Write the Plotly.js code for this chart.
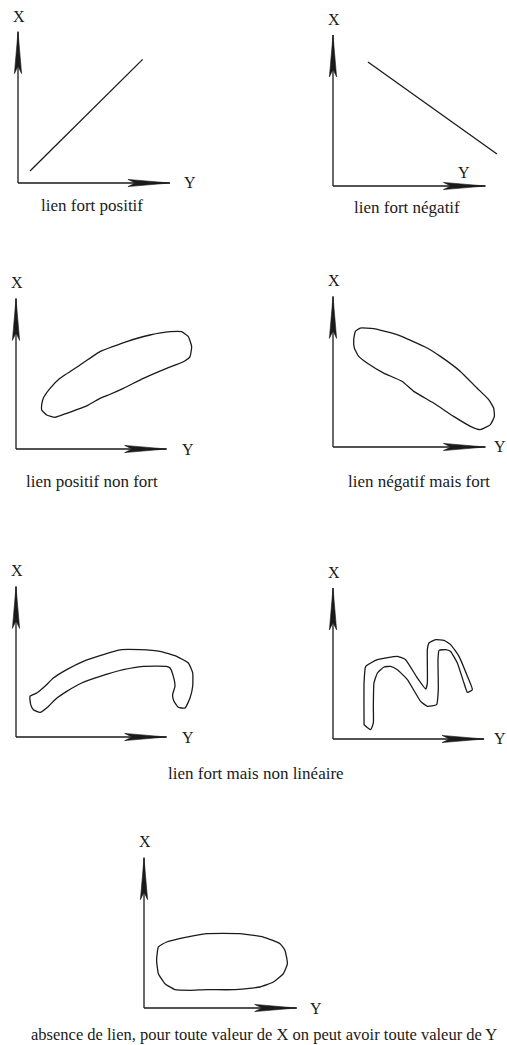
<!DOCTYPE html>
<html>
<head>
<meta charset="utf-8">
<script src="https://cdn.plot.ly/plotly-3.0.1.min.js"></script>
<style>
  html, body { margin: 0; padding: 0; background: #fff; }
  #chart { width: 507px; height: 1045px; }
</style>
</head>
<body>
<div id="chart"></div>
<script>
// ---- data (axis units, origin of each little diagram = 0,0) ----

// arrow lengths of the two axes, one per diagram
const axisTipH = [10.13, 10.16, 10.04, 10.16, 10.04, 10.07, 10.18];
const axisTipV = [10.09, 10.07, 10.04, 10.04, 10.04, 10.07, 10.02];

// 1. lien fort positif
const posLineX = [0.8, 8.31];
const posLineY = [0.8, 8.24];

// 2. lien fort négatif
const negLineX = [2.33, 10.93];
const negLineY = [8.27, 2.13];

// 3. lien positif non fort
const posCloudX = [1.71, 1.82, 2.27, 2.93, 4.27, 5.6, 7.38, 8.93, 10.27, 11.04, 11.49, 11.71,
                   11.6, 11.16, 10.04, 8.49, 7.16, 6.16, 5.6, 4.82, 3.38, 2.6, 2.04, 1.71];
const posCloudY = [2.93, 3.38, 4.04, 4.71, 5.6, 6.49, 7.16, 7.6, 7.82, 7.82, 7.49, 6.82,
                   6.16, 5.82, 5.38, 4.71, 4.04, 3.6, 3.38, 2.93, 2.38, 2.11, 2.27, 2.6];

// 4. lien négatif mais fort
const negCloudX = [1.38, 1.49, 1.82, 2.71, 4.27, 6.27, 7.16, 8.49, 9.6, 10.38, 10.71, 10.76,
                   10.49, 9.82, 9.16, 8.04, 6.71, 5.38, 4.6, 3.38, 2.27, 1.71, 1.42];
const negCloudY = [7.16, 7.71, 7.93, 7.89, 7.49, 6.6, 6.04, 5.04, 3.93, 3.16, 2.6, 2.04,
                   1.49, 1.16, 1.38, 2.04, 2.93, 3.71, 4.38, 4.93, 5.6, 6.04, 6.6];

// 5. lien fort mais non linéaire (arc)
const arcX = [0.93, 1.38, 1.93, 2.49, 3.38, 4.49, 5.6, 7.04, 8.27, 9.6, 10.71, 11.49, 11.78,
              11.78, 11.6, 11.27, 10.82, 10.53, 10.44, 10.6, 10.49, 10.27, 10.04, 8.49, 7.16,
              5.6, 4.38, 3.38, 2.6, 2.16, 1.6, 1.16, 0.98];
const arcY = [2.71, 2.93, 3.38, 3.93, 4.49, 5.04, 5.42, 5.82, 5.82, 5.71, 5.38, 4.93, 4.27,
              3.38, 2.6, 1.93, 1.98, 2.38, 2.82, 3.38, 4.04, 4.6, 4.71, 4.71, 4.49,
              4.04, 3.6, 3.04, 2.49, 2.04, 1.64, 1.82, 2.16];

// 6. lien fort mais non linéaire (vague)
const waveX = [2.07, 2.07, 2.18, 2.96, 4.29, 4.84, 5.62, 6.18, 6.29, 6.29, 6.4, 6.84, 7.4,
               7.84, 8.4, 8.96, 9.29, 8.96, 8.73, 8.29, 7.84, 7.51, 7.07, 7.0, 7.02, 6.91,
               6.29, 5.84, 4.96, 4.29, 3.84, 3.4, 2.96, 2.73, 2.69, 2.69, 2.51, 2.07];
const waveY = [1.07, 3.73, 4.84, 5.29, 5.51, 5.29, 4.07, 3.33, 3.73, 5.96, 6.4, 6.62, 6.58,
               6.29, 5.51, 4.18, 3.29, 3.11, 3.73, 5.07, 5.84, 5.96, 5.91, 5.29, 3.29, 2.29,
               2.18, 2.51, 3.96, 4.62, 4.84, 4.8, 4.4, 3.73, 2.18, 1.07, 0.62, 0.96];

// 7. absence de lien
const noLinkX = [0.84, 0.96, 1.51, 2.84, 4.18, 6.4, 7.96, 9.07, 9.4, 9.56, 9.29, 8.62, 7.73,
                 5.96, 4.18, 3.07, 2.07, 1.4, 0.96];
const noLinkY = [3.18, 4.07, 4.4, 4.73, 4.96, 4.96, 4.73, 4.29, 3.84, 2.96, 2.29, 1.73, 1.4,
                 1.22, 1.22, 1.18, 1.22, 1.62, 2.29];

const captions = [
    "lien fort positif",
    "lien fort négatif",
    "lien positif non fort",
    "lien négatif mais fort",
    "lien fort mais non linéaire",
    "absence de lien, pour toute valeur de X on peut avoir toute valeur de Y"
];

// ---- layout of the page (pixels) ----
const W = 507, H = 1045, UNIT = 15;
const INK = "#1a1a1a";
const FONT = "Liberation Serif";

const panels = [
    { ox: 18,  oy: 183,  xmax: 12.5, yLab: [11.45, 0] },
    { ox: 333, oy: 186,  xmax: 11.6, yLab: [8.76, 0.89] },
    { ox: 16,  oy: 449,  xmax: 12.5, yLab: [11.49, 0] },
    { ox: 333, oy: 447,  xmax: 11.6, yLab: [11.1, 0] },
    { ox: 16,  oy: 737,  xmax: 12.5, yLab: [11.49, 0] },
    { ox: 333, oy: 739,  xmax: 11.6, yLab: [11.1, 0] },
    { ox: 144, oy: 1008, xmax: 12.5, yLab: [11.47, 0] }
];
const captionPos = [[92, 205], [407, 208], [92, 482], [419, 482], [256, 773], [264, 1034]];
const captionSize = [17, 17, 17, 17, 17, 16.5];

const XMIN = -1, YMIN = -1, YMAX = 12;
const HEAD_LEN = 2.8, HEAD_W = 0.24;

function closed(arr) { return arr.concat([arr[0]]); }

function outline(xs, ys, i, closeIt) {
    const n = i === 0 ? "" : String(i + 1);
    return {
        x: closeIt ? closed(xs) : xs,
        y: closeIt ? closed(ys) : ys,
        xaxis: "x" + n,
        yaxis: "y" + n,
        type: "scatter",
        mode: "lines",
        line: { color: INK, width: 1.3, shape: closeIt ? "spline" : "linear", smoothing: 0.4 },
        hoverinfo: "skip",
        showlegend: false
    };
}

const traces = [
    outline(posLineX, posLineY, 0, false),
    outline(negLineX, negLineY, 1, false),
    outline(posCloudX, posCloudY, 2, true),
    outline(negCloudX, negCloudY, 3, true),
    outline(arcX, arcY, 4, true),
    outline(waveX, waveY, 5, true),
    outline(noLinkX, noLinkY, 6, true)
];

const layout = {
    width: W,
    height: H,
    margin: { l: 0, r: 0, t: 0, b: 0 },
    paper_bgcolor: "#fff",
    plot_bgcolor: "rgba(0,0,0,0)",
    showlegend: false,
    shapes: [],
    annotations: []
};

panels.forEach((p, i) => {
    const n = i === 0 ? "" : String(i + 1);
    const xr = "x" + n, yr = "y" + n;
    const left = p.ox + XMIN * UNIT, right = p.ox + p.xmax * UNIT;
    const bottom = p.oy - YMIN * UNIT, top = p.oy - YMAX * UNIT;

    layout["xaxis" + n] = {
        domain: [left / W, Math.min(1, right / W)],
        range: [XMIN, p.xmax], visible: false, fixedrange: true, anchor: yr
    };
    layout["yaxis" + n] = {
        domain: [(H - bottom) / H, (H - top) / H],
        range: [YMIN, YMAX], visible: false, fixedrange: true, anchor: xr
    };

    const th = axisTipH[i], tv = axisTipV[i];
    // axis lines
    layout.shapes.push(
        { type: "line", xref: xr, yref: yr, x0: 0, y0: 0, x1: th, y1: 0, line: { color: INK, width: 1.3 } },
        { type: "line", xref: xr, yref: yr, x0: 0, y0: 0, x1: 0, y1: tv, line: { color: INK, width: 1.3 } }
    );
    // long narrow arrow heads
    layout.shapes.push(
        {
            type: "path", xref: xr, yref: yr, fillcolor: INK, line: { color: INK, width: 0.6 },
            path: `M${th},0 L${th - HEAD_LEN},${HEAD_W} L${th - HEAD_LEN * 0.82},0 L${th - HEAD_LEN},${-HEAD_W} Z`
        },
        {
            type: "path", xref: xr, yref: yr, fillcolor: INK, line: { color: INK, width: 0.6 },
            path: `M0,${tv} L${HEAD_W},${tv - HEAD_LEN} L0,${tv - HEAD_LEN * 0.82} L${-HEAD_W},${tv - HEAD_LEN} Z`
        }
    );

    layout.annotations.push(
        { xref: xr, yref: yr, x: 0.04, y: 11.1, text: "X", showarrow: false,
          font: { family: FONT, size: 16, color: INK }, xanchor: "center", yanchor: "middle" },
        { xref: xr, yref: yr, x: p.yLab[0], y: p.yLab[1], text: "Y", showarrow: false,
          font: { family: FONT, size: 16, color: INK }, xanchor: "center", yanchor: "middle" }
    );
});

captions.forEach((c, i) => {
    layout.annotations.push({
        xref: "paper", yref: "paper",
        x: captionPos[i][0] / W, y: 1 - captionPos[i][1] / H,
        text: c, showarrow: false,
        font: { family: FONT, size: captionSize[i], color: INK },
        xanchor: "center", yanchor: "middle"
    });
});

Plotly.newPlot("chart", traces, layout, { displayModeBar: false, staticPlot: true });
</script>
</body>
</html>
